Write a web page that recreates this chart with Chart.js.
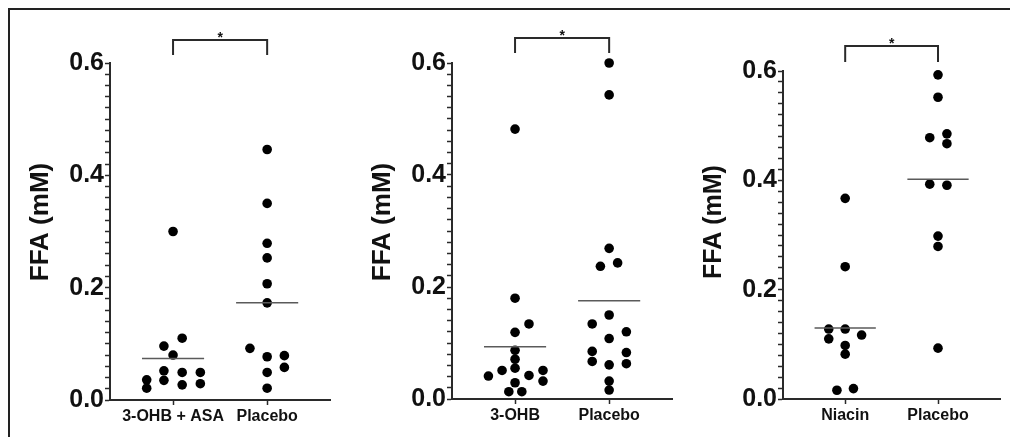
<!DOCTYPE html>
<html><head><meta charset="utf-8">
<script src="https://cdn.jsdelivr.net/npm/chart.js@4/dist/chart.umd.min.js"></script>
<style>
html,body{margin:0;padding:0;background:#fff;}
#wrap{position:relative;width:1010px;height:437px;overflow:hidden;background:#fff;}
#frame{position:absolute;left:8px;top:8px;width:1010px;height:440px;border-top:2px solid #222;border-left:2px solid #222;}
.pnl{position:absolute;top:0;}
</style></head><body>
<div id="wrap"><div id="frame"></div>
<div class="pnl" style="left:20px"><canvas id="c1" width="315" height="437"></canvas></div>
<div class="pnl" style="left:362px"><canvas id="c2" width="315" height="437"></canvas></div>
<div class="pnl" style="left:693px"><canvas id="c3" width="312" height="437"></canvas></div>
</div>
<script>
// ---- Data ----
const yTickValues = [0, 0.2, 0.4, 0.6];
const yTitle = 'FFA (mM)';
const sigLabel = '*';

// Panel 1
const cats1 = ['3-OHB + ASA', 'Placebo'];
const ffa1a = [0.300, 0.110, 0.096, 0.080, 0.052, 0.049, 0.049, 0.036, 0.035, 0.027, 0.029, 0.021];
const ffa1b = [0.446, 0.350, 0.279, 0.253, 0.207, 0.173, 0.092, 0.077, 0.079, 0.058, 0.049, 0.021];
const mean1 = [0.0737, 0.173];
// Panel 2
const cats2 = ['3-OHB', 'Placebo'];
const ffa2a = [0.482, 0.180, 0.134, 0.119, 0.087, 0.071, 0.055, 0.051, 0.051, 0.041, 0.042, 0.029, 0.032, 0.013, 0.013];
const ffa2b = [0.600, 0.543, 0.269, 0.237, 0.243, 0.150, 0.134, 0.120, 0.108, 0.085, 0.083, 0.067, 0.061, 0.063, 0.032, 0.016];
const mean2 = [0.0934, 0.1755];
// Panel 3
const cats3 = ['Niacin', 'Placebo'];
const ffa3a = [0.367, 0.242, 0.128, 0.128, 0.117, 0.110, 0.098, 0.082, 0.019, 0.016];
const ffa3b = [0.593, 0.552, 0.478, 0.485, 0.467, 0.393, 0.391, 0.298, 0.279, 0.093];
const mean3 = [0.130, 0.402];

// ---- Horizontal scatter offsets of the dots (in category units) ----
const jit1a = [0, 0.097, -0.097, 0, -0.097, 0.097, 0.29, -0.28, -0.097, 0.097, 0.29, -0.28];
const jit1b = [0, 0, 0, 0, 0, 0, -0.183, 0, 0.183, 0.183, 0, 0];
const jit2a = [0, 0, 0.148, 0, 0, 0, 0, -0.138, 0.297, -0.283, 0.148, 0, 0.297, -0.066, 0.072];
const jit2b = [0, 0, 0, -0.093, 0.09, 0, -0.18, 0.183, 0, -0.18, 0.183, -0.18, 0, 0.183, 0, 0];
const jit3a = [0, 0, -0.177, 0, 0.177, -0.177, 0, 0, 0.089, -0.089];
const jit3b = [0, 0, -0.089, 0.096, 0.096, -0.089, 0.096, 0, 0, 0];

// ---- Styling ----
const FONT = '"Liberation Sans", Arial, Helvetica, sans-serif';
const AX = '#2a2a2a';
const HALF = 0.33;

const bracketPlugin = {
  id: 'bracket',
  afterDatasetsDraw(chart, args, opts) {
    const {ctx, chartArea, scales: {x}} = chart;
    const x0 = x.getPixelForValue(0), x1 = x.getPixelForValue(1);
    const yb = chartArea.top - opts.rise, yl = chartArea.top - opts.leg;
    ctx.save();
    ctx.strokeStyle = AX; ctx.lineWidth = 2;
    ctx.beginPath(); ctx.moveTo(x0, yl); ctx.lineTo(x0, yb); ctx.lineTo(x1, yb); ctx.lineTo(x1, yl); ctx.stroke();
    ctx.fillStyle = '#111'; ctx.font = 'bold 14px ' + FONT;
    ctx.textAlign = 'center'; ctx.textBaseline = 'alphabetic';
    ctx.fillText(sigLabel, (x0 + x1) / 2, yb + 2);
    ctx.restore();
  }
};
const titlePlugin = {
  id: 'ytitle',
  afterDraw(chart, args, opts) {
    const {ctx, chartArea} = chart;
    ctx.save();
    ctx.translate(chartArea.left - 69, opts.cy);
    ctx.rotate(-Math.PI / 2);
    ctx.fillStyle = '#111'; ctx.font = 'bold ' + opts.size + 'px ' + FONT;
    ctx.textAlign = 'center'; ctx.textBaseline = 'middle';
    ctx.fillText(yTitle, 0, 0);
    ctx.restore();
  }
};

function makePanel(id, cats, va, ja, vb, jb, means, cfg) {
  const ptsA = va.map((v, i) => ({x: 0 + ja[i], y: v}));
  const ptsB = vb.map((v, i) => ({x: 1 + jb[i], y: v}));
  const dot = {backgroundColor: '#000', borderWidth: 0, pointRadius: 4.8, pointHoverRadius: 4.8, order: 2, clip: false};
  const ml = {type: 'line', borderColor: '#5a5a5a', borderWidth: 1.5, pointRadius: 0, showLine: true, order: 1};
  return new Chart(document.getElementById(id), {
    type: 'scatter',
    data: {datasets: [
      Object.assign({data: ptsA}, dot),
      Object.assign({data: ptsB}, dot),
      Object.assign({data: [{x: -HALF, y: means[0]}, {x: HALF, y: means[0]}]}, ml),
      Object.assign({data: [{x: 1 - HALF, y: means[1]}, {x: 1 + HALF, y: means[1]}]}, ml)
    ]},
    options: {
      responsive: false, animation: false, events: [],
      layout: {padding: {top: cfg.top, bottom: 0, left: 0, right: 0}},
      plugins: {legend: {display: false}, tooltip: {enabled: false},
        bracket: {rise: cfg.rise, leg: cfg.leg}, ytitle: {cy: 222, size: cfg.tsize}},
      scales: {
        x: {type: 'linear', min: -0.67, max: 1.67,
          afterBuildTicks: s => { s.ticks = [{value: 0}, {value: 1}]; },
          afterFit: s => { s.height = 437 - cfg.bottom; },
          grid: {drawOnChartArea: false, tickLength: 5, tickColor: AX, tickWidth: 1.5},
          border: {color: AX, width: 2},
          ticks: {callback: v => cats[v], autoSkip: false, maxRotation: 0, padding: 2, color: '#111',
            font: {family: FONT, size: 16, weight: 'bold'}}
        },
        y: {min: yTickValues[0], max: yTickValues[yTickValues.length - 1],
          afterFit: s => { s.width = 90; },
          grid: {drawOnChartArea: false, tickLength: 5, tickColor: AX, tickWidth: 1.5},
          border: {color: AX, width: 2},
          ticks: {stepSize: 0.02, autoSkip: false, padding: 1, color: '#111',
            callback: (v, i) => (i % 10 === 0 ? v.toFixed(1) : ''),
            font: {family: FONT, size: 25, weight: 'bold'}}
        }
      }
    },
    plugins: [bracketPlugin, titlePlugin]
  });
}

makePanel('c1', cats1, ffa1a, jit1a, ffa1b, jit1b, mean1, {top: 63, bottom: 400, rise: 23, leg: 8, tsize: 26});
makePanel('c2', cats2, ffa2a, jit2a, ffa2b, jit2b, mean2, {top: 63, bottom: 399, rise: 25, leg: 10, tsize: 26});
makePanel('c3', cats3, ffa3a, jit3a, ffa3b, jit3b, mean3, {top: 71, bottom: 399, rise: 25, leg: 9, tsize: 25});
</script>
</body></html>
